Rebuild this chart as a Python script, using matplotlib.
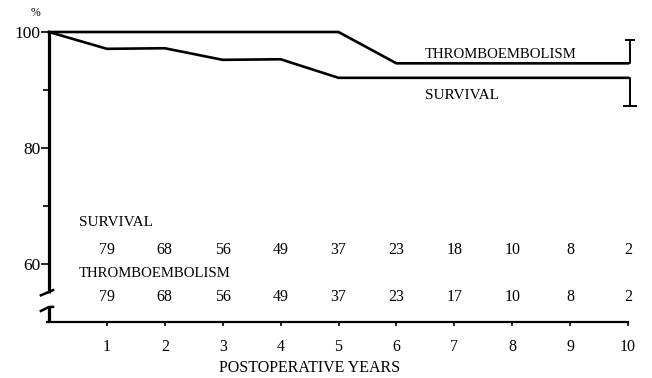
import matplotlib
matplotlib.use("Agg")
import matplotlib.pyplot as plt
from matplotlib.lines import Line2D

# ---- data ----
years = [0, 1, 2, 3, 4, 5, 6, 7, 8, 9, 10]
survival = [100, 97.1, 97.2, 95.2, 95.3, 92.1, 92.1, 92.1, 92.1, 92.1, 92.1]
thromboembolism = [100, 100, 100, 100, 100, 100, 94.6, 94.6, 94.6, 94.6, 94.6]
survival_low_10 = 87.3
thrombo_high_10 = 98.6
count_years = [1, 2, 3, 4, 5, 6, 7, 8, 9, 10]
survival_counts = [79, 68, 56, 49, 37, 23, 18, 10, 8, 2]
thrombo_counts = [79, 68, 56, 49, 37, 23, 17, 10, 8, 2]
xticks = [1, 2, 3, 4, 5, 6, 7, 8, 9, 10]
yticks_major = [60, 80, 100]
yticks_minor = [70, 90]

FONT = "Liberation Serif"
plt.rcParams['font.family'] = [FONT, 'DejaVu Serif']

W, H = 652, 378
fig = plt.figure(figsize=(W / 100, H / 100), dpi=100)
left_px, right_px, top_px, bottom_px = 49, 628, 32, 322
ax = fig.add_axes([left_px / W, 1 - bottom_px / H,
                   (right_px - left_px) / W, (bottom_px - top_px) / H])
ax.set_xlim(0, 10)
ax.set_ylim(50, 100)

lw = 1.9
ax.plot(years, thromboembolism, color='black', lw=lw, clip_on=False)
ax.plot(years, survival, color='black', lw=lw, clip_on=False)

# one-sided error bars at year 10
xe = 10.03
ax.plot([10, xe, xe], [thromboembolism[-1], thromboembolism[-1], thrombo_high_10],
        color='black', lw=1.4, clip_on=False)
ax.plot([xe - 0.07, xe + 0.07], [thrombo_high_10, thrombo_high_10],
        color='black', lw=1.4, clip_on=False)
ax.plot([10, xe, xe], [survival[-1], survival[-1], survival_low_10],
        color='black', lw=1.4, clip_on=False)
ax.plot([xe - 0.1, xe + 0.1], [survival_low_10, survival_low_10],
        color='black', lw=1.4, clip_on=False)

# spines
for s in ['top', 'right', 'left']:
    ax.spines[s].set_visible(False)
ax.spines['bottom'].set_linewidth(1.6)
ax.spines['bottom'].set_bounds(-0.03, 10)

# manual broken left axis
spine_kw = dict(color='black', lw=2.3, clip_on=False, solid_capstyle='butt')
ax.add_line(Line2D([0, 0], [100.2, 55.0], **spine_kw))
ax.add_line(Line2D([-0.14, 0.07], [54.6, 55.5], color='black', lw=1.8, clip_on=False))
ax.add_line(Line2D([0, 0], [52.6, 50], **spine_kw))
ax.add_line(Line2D([-0.14, 0.0, 0.07], [51.9, 52.6, 52.6], color='black', lw=1.8,
                   clip_on=False))

# ticks
ax.set_xticks(xticks)
ax.set_xticklabels([str(v) for v in xticks], fontsize=11.5)
ax.set_yticks(yticks_major)
ax.set_yticklabels([str(v) for v in yticks_major], fontsize=12.5)
ax.set_yticks(yticks_minor, minor=True)
ax.tick_params(axis='y', which='major', direction='out', length=6, width=1.2, pad=0)
ax.tick_params(axis='y', which='minor', direction='out', length=4, width=1.2)
ax.tick_params(axis='x', direction='out', length=3, width=1.2, pad=9)

# labels
ax.text(4.5, 42.1, "POSTOPERATIVE YEARS", ha='center', va='center', fontsize=11.5)
ax.text(-0.24, 103.3, "%", ha='center', va='center', fontsize=8.5)
ax.text(6.49, 96.2, "THROMBOEMBOLISM", ha='left', va='center', fontsize=10.6)
ax.text(6.49, 89.1, "SURVIVAL", ha='left', va='center', fontsize=11)
ax.text(0.52, 67.1, "SURVIVAL", ha='left', va='center', fontsize=11)
ax.text(0.52, 58.3, "THROMBOEMBOLISM", ha='left', va='center', fontsize=10.6)
for x, n in zip(count_years, survival_counts):
    ax.text(x, 62.4, str(n), ha='center', va='center', fontsize=11.5)
for x, n in zip(count_years, thrombo_counts):
    ax.text(x, 54.3, str(n), ha='center', va='center', fontsize=11.5)

fig.savefig("out.png", dpi=100)
